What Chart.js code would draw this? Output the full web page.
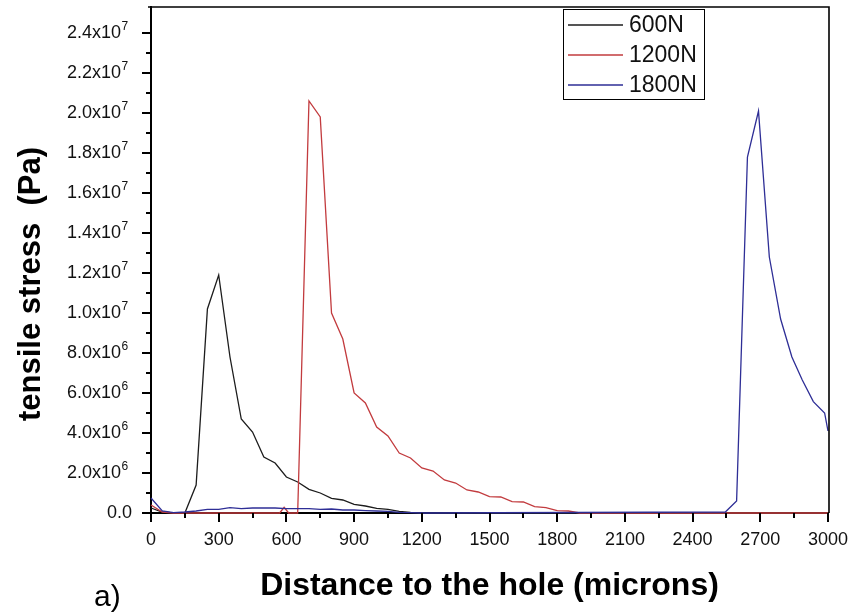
<!DOCTYPE html>
<html>
<head>
<meta charset="utf-8">
<script src="https://cdn.jsdelivr.net/npm/chart.js@4.4.0/dist/chart.umd.min.js"></script>
<style>
  html, body { margin: 0; padding: 0; background: #fff; }
</style>
</head>
<body>
<canvas id="stressChart" width="849" height="614"></canvas>
<script>
// distance to the hole (microns) and tensile stress (Pa)
const x600 = [0, 50, 100, 150, 200, 250, 300, 350, 400, 450, 500, 550, 600, 650, 700, 750, 800, 850, 900, 950, 1000, 1050, 1100, 1150, 1200, 3000];
const s600 = [0.25e6, 0.05e6, 0, 0, 1.4e6, 10.2e6, 11.9e6, 7.8e6, 4.7e6, 4.05e6, 2.8e6, 2.5e6, 1.8e6, 1.55e6, 1.18e6, 1.0e6, 0.73e6, 0.65e6, 0.43e6, 0.35e6, 0.23e6, 0.18e6, 0.08e6, 0.03e6, 0, 0];

const x1200 = [0, 50, 100, 570, 590, 610, 650, 700, 750, 800, 850, 900, 950, 1000, 1050, 1100, 1150, 1200, 1250, 1300, 1350, 1400, 1450, 1500, 1550, 1600, 1650, 1700, 1750, 1800, 1850, 1900, 3000];
const s1200 = [0.4e6, 0.05e6, 0, 0, 0.28e6, 0, 0, 20.6e6, 19.8e6, 10.0e6, 8.7e6, 6.0e6, 5.5e6, 4.3e6, 3.85e6, 3.0e6, 2.75e6, 2.25e6, 2.1e6, 1.65e6, 1.5e6, 1.15e6, 1.05e6, 0.82e6, 0.8e6, 0.57e6, 0.55e6, 0.32e6, 0.27e6, 0.12e6, 0.1e6, 0, 0];

const x1800 = [0, 50, 100, 150, 200, 250, 300, 350, 400, 450, 500, 550, 600, 650, 700, 750, 800, 850, 900, 950, 1000, 1050, 1100, 1150, 1200, 2545, 2595, 2643, 2692, 2740, 2790, 2840, 2886, 2935, 2985, 3000];
const s1800 = [0.75e6, 0.1e6, 0.02e6, 0.05e6, 0.1e6, 0.18e6, 0.18e6, 0.27e6, 0.22e6, 0.25e6, 0.25e6, 0.25e6, 0.22e6, 0.22e6, 0.22e6, 0.18e6, 0.2e6, 0.15e6, 0.15e6, 0.12e6, 0.1e6, 0.08e6, 0.03e6, 0.02e6, 0, 0.05e6, 0.6e6, 17.8e6, 20.1e6, 12.8e6, 9.7e6, 7.8e6, 6.65e6, 5.57e6, 5.0e6, 4.1e6];

const seriesNames = ['600N', '1200N', '1800N'];
const seriesColors = ['#1c1c1c', '#c23b3e', '#2e2e96'];

// labelled ticks
const xTicks = [0, 300, 600, 900, 1200, 1500, 1800, 2100, 2400, 2700, 3000];
const yTicks = [0, 2e6, 4e6, 6e6, 8e6, 10e6, 12e6, 14e6, 16e6, 18e6, 20e6, 22e6, 24e6];

const FONT = '"Liberation Sans", Arial, sans-serif';
Chart.defaults.font.family = FONT;
Chart.defaults.color = '#111';

function pts(xs, ys) {
  return xs.map((v, i) => ({ x: v, y: ys[i] }));
}

function noPad(s) {
  s.paddingTop = 0; s.paddingBottom = 0; s.paddingLeft = 0; s.paddingRight = 0;
}

// y labels with raised exponent, tick marks, frame, y title, legend, panel letter
const decor = {
  id: 'decor',
  afterDraw(chart) {
    const { ctx, chartArea: a, scales: { x, y } } = chart;
    ctx.save();

    ctx.fillStyle = '#111';
    ctx.textBaseline = 'middle';
    yTicks.forEach(v => {
      const py = y.getPixelForValue(v);
      ctx.textAlign = 'right';
      ctx.font = '18px ' + FONT;
      if (v === 0) {
        ctx.fillText('0.0', 132, py);
        return;
      }
      const exp = v >= 1e7 ? 7 : 6;
      ctx.fillText((v / Math.pow(10, exp)).toFixed(1) + 'x10', 121, py);
      ctx.textAlign = 'left';
      ctx.font = '12px ' + FONT;
      ctx.fillText(String(exp), 121.5, py - 6);
    });

    ctx.strokeStyle = '#000';
    ctx.lineWidth = 2;
    ctx.beginPath();
    for (let v = 0; v <= 3000; v += 150) {
      const px = Math.round(x.getPixelForValue(v));
      ctx.moveTo(px, a.bottom);
      ctx.lineTo(px, a.bottom + (v % 300 === 0 ? 9 : 5));
    }
    for (let v = 0; v <= 24e6; v += 1e6) {
      const py = Math.round(y.getPixelForValue(v));
      ctx.moveTo(a.left, py);
      ctx.lineTo(a.left - (v % 2e6 === 0 ? 9 : 5), py);
    }
    ctx.stroke();

    ctx.lineWidth = 1.6;
    ctx.beginPath();
    ctx.moveTo(a.left - 3, a.top);
    ctx.lineTo(a.right + 1, a.top);
    ctx.lineTo(a.right + 1, a.bottom);
    ctx.stroke();

    // y axis title
    ctx.fillStyle = '#000';
    ctx.font = 'bold 31px ' + FONT;
    ctx.textAlign = 'center';
    ctx.textBaseline = 'middle';
    ctx.translate(31, 284);
    ctx.rotate(-Math.PI / 2);
    ctx.fillText('tensile stress  (Pa)', 0, 0);
    ctx.setTransform(1, 0, 0, 1, 0, 0);

    // panel letter
    ctx.font = '30px ' + FONT;
    ctx.textAlign = 'left';
    ctx.textBaseline = 'alphabetic';
    ctx.fillText('a)', 94, 606);

    // legend
    ctx.lineWidth = 1;
    ctx.fillStyle = '#fff';
    ctx.fillRect(563.5, 9.5, 141, 90);
    ctx.strokeStyle = '#000';
    ctx.strokeRect(563.5, 9.5, 141, 90);
    ctx.font = '23px ' + FONT;
    ctx.textBaseline = 'middle';
    chart.data.datasets.forEach((ds, i) => {
      const ly = 25 + i * 30;
      ctx.strokeStyle = ds.borderColor;
      ctx.lineWidth = 1.3;
      ctx.beginPath();
      ctx.moveTo(568, ly);
      ctx.lineTo(623, ly);
      ctx.stroke();
      ctx.fillStyle = '#111';
      ctx.fillText(ds.label, 629, ly + 1);
    });
    ctx.restore();
  }
};

new Chart(document.getElementById('stressChart'), {
  type: 'line',
  data: {
    datasets: [
      { label: seriesNames[0], data: pts(x600, s600), borderColor: seriesColors[0], order: 3 },
      { label: seriesNames[1], data: pts(x1200, s1200), borderColor: seriesColors[1], order: 2 },
      { label: seriesNames[2], data: pts(x1800, s1800), borderColor: seriesColors[2], order: 1 }
    ]
  },
  options: {
    responsive: false,
    animation: false,
    devicePixelRatio: 1,
    layout: { padding: { left: 0, right: 21, top: 7, bottom: 0 } },
    elements: {
      point: { radius: 0 },
      line: { borderWidth: 1.3, tension: 0 }
    },
    datasets: { line: { clip: false } },
    plugins: { legend: { display: false }, tooltip: { enabled: false } },
    scales: {
      x: {
        type: 'linear',
        min: 0,
        max: 3000,
        afterBuildTicks: s => { s.ticks = xTicks.map(v => ({ value: v })); },
        afterFit: s => { s.height = 101; noPad(s); },
        grid: { display: false, drawTicks: false },
        border: { display: true, color: '#000', width: 2 },
        ticks: { padding: 16, autoSkip: false, maxRotation: 0, font: { size: 18 }, callback: v => String(v) },
        title: {
          display: true,
          text: 'Distance to the hole (microns)',
          color: '#000',
          font: { size: 32, weight: 'bold' },
          padding: { top: 0, bottom: 9 }
        }
      },
      y: {
        type: 'linear',
        min: 0,
        max: 25.3e6,
        afterBuildTicks: s => { s.ticks = yTicks.map(v => ({ value: v })); },
        afterFit: s => { s.width = 151; noPad(s); },
        grid: { display: false, drawTicks: false },
        border: { display: true, color: '#000', width: 2 },
        ticks: { display: false }
      }
    }
  },
  plugins: [decor]
});
</script>
</body>
</html>
